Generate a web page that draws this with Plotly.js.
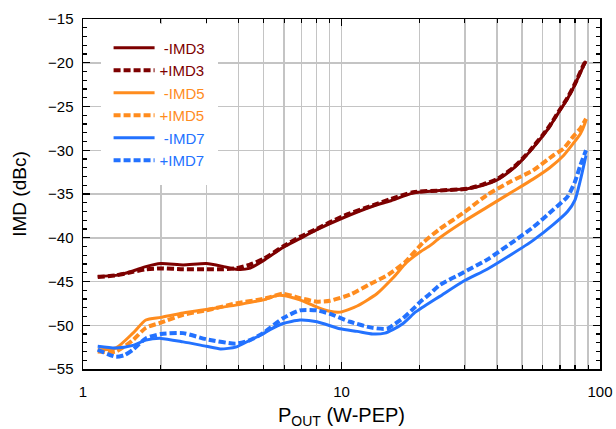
<!DOCTYPE html>
<html>
<head>
<meta charset="utf-8">
<script src="https://cdn.plot.ly/plotly-3.0.1.min.js"></script>
<style>html,body{margin:0;padding:0;background:#fff;}#chart{width:616px;height:429px;}</style>
</head>
<body>
<div id="chart"></div>
<script>
// -IMD3 (solid)
const xM3 = [1.14,1.34,1.56,1.75,2.0,2.44,3.0,3.5,3.9,4.4,5.0,5.94,6.9,8.0,10.0,13.2,15.4,18.9,24.0,30.6,35.3,40.0,46.1,50.0,53.7,59.9,63.9,69.1,74.9,80.0,86.2,88.3];
const yM3 = [-44.4,-44.3,-43.8,-43.3,-42.95,-43.1,-42.95,-43.3,-43.6,-43.5,-42.6,-41.1,-40.1,-39.1,-37.8,-36.4,-35.8,-34.9,-34.6,-34.4,-34.0,-33.4,-32.1,-31.1,-30.1,-28.4,-27.3,-25.7,-24.1,-22.5,-20.4,-19.8];
// +IMD3 (dashed)
const xP3 = [1.14,1.34,1.56,1.75,2.0,2.44,3.0,3.5,3.9,4.4,5.0,5.94,6.9,8.0,10.0,13.2,15.4,18.9,24.0,30.6,35.3,40.0,46.1,50.0,53.7,59.9,63.9,69.1,74.9,80.0,86.2,88.3];
const yP3 = [-44.5,-44.3,-43.9,-43.6,-43.5,-43.6,-43.6,-43.6,-43.5,-43.1,-42.4,-41.0,-39.9,-39.0,-37.6,-36.3,-35.6,-34.8,-34.6,-34.4,-33.9,-33.3,-32.0,-31.0,-30.0,-28.3,-27.2,-25.6,-24.0,-22.4,-20.3,-19.7];
// -IMD5 (solid)
const xM5 = [1.14,1.34,1.56,1.75,2.0,2.44,3.0,3.9,4.4,5.0,5.6,5.94,6.9,8.0,9.0,9.87,11.5,13.7,15.8,17.9,20.2,22.0,24.0,29.5,36.6,44.9,55.1,63.9,72.3,78.9,84.0,87.5,88.3];
const yM5 = [-52.8,-52.6,-50.9,-49.4,-49.1,-48.6,-48.2,-47.7,-47.4,-47.1,-46.6,-46.6,-47.1,-47.9,-48.4,-48.5,-47.8,-46.4,-44.6,-42.8,-41.6,-40.9,-40.0,-38.2,-36.5,-34.9,-33.3,-32.0,-30.6,-29.2,-28.1,-26.9,-26.5];
// +IMD5 (dashed)
const xP5 = [1.14,1.34,1.56,1.75,2.0,2.44,3.0,3.9,4.97,5.29,5.94,6.91,8.04,9.03,10.79,12.9,15.2,17.6,20.6,24.0,29.5,36.6,44.9,55.1,65.9,72.3,78.9,84.0,88.3];
const yP5 = [-53.0,-53.0,-51.7,-50.3,-49.7,-48.8,-48.3,-47.5,-47.0,-46.8,-46.4,-46.9,-47.3,-47.2,-46.5,-45.3,-44.2,-42.8,-40.6,-39.0,-37.2,-35.1,-33.6,-32.3,-30.6,-29.8,-28.4,-27.5,-26.4];
// -IMD7 (solid)
const xM7 = [1.14,1.34,1.56,1.75,2.0,2.44,3.0,3.4,3.9,4.43,4.97,5.29,5.94,6.91,8.04,9.87,11.5,13.2,14.7,15.8,17.3,19.3,20.2,22.0,24.0,29.5,36.6,44.9,55.1,65.9,74.9,80.0,84.0,87.5,88.3];
const yM7 = [-52.4,-52.6,-52.3,-51.7,-51.5,-51.9,-52.4,-52.7,-52.5,-51.7,-51.0,-50.5,-49.8,-49.4,-49.6,-50.4,-50.7,-51.0,-50.9,-50.5,-49.8,-48.5,-48.1,-47.4,-46.7,-45.0,-43.6,-42.0,-40.3,-38.5,-37.0,-35.7,-33.4,-31.1,-30.6];
// +IMD7 (dashed)
const xP7 = [1.14,1.34,1.45,1.56,1.75,2.0,2.44,3.0,3.9,4.43,4.97,5.94,6.91,8.04,9.03,10.79,13.2,15.0,15.8,17.3,19.3,20.2,22.0,24.0,29.5,36.6,44.9,55.1,65.9,74.9,80.0,84.0,88.3];
const yP7 = [-52.8,-53.6,-53.4,-52.8,-51.5,-51.0,-50.9,-51.6,-52.1,-51.7,-50.9,-49.2,-48.3,-48.3,-48.7,-49.6,-50.3,-50.4,-50.0,-49.2,-47.9,-47.3,-46.4,-45.4,-44.0,-42.5,-40.7,-38.8,-36.8,-35.3,-33.6,-31.7,-30.0];

const names = ['\u00a0-IMD3','+IMD3','\u00a0-IMD5','+IMD5','\u00a0-IMD7','+IMD7'];
const xMinor = [2,3,4,5,6,7,8,9,20,30,40,50,60,70,80,90];
const xMajor = [1,10,100];
const xLabels = ['1','10','100'];

const cRed = '#7d0000', cOrg = '#ff8c1e', cBlue = '#2372ff';
const DASH = '7px,3px';
function tr(x, y, name, color, dashed) {
  return {
    x: x, y: y, type: 'scatter', mode: 'lines',
    name: '<span style="color:' + color + '">' + name + '</span>',
    line: {color: color, width: dashed ? 4 : 3, dash: dashed ? DASH : 'solid', shape: 'spline', smoothing: 0.6}
  };
}
const data = [
  tr(xM3, yM3, names[0], cRed, false),
  tr(xP3, yP3, names[1], cRed, true),
  tr(xM5, yM5, names[2], cOrg, false),
  tr(xP5, yP5, names[3], cOrg, true),
  tr(xM7, yM7, names[4], cBlue, false),
  tr(xP7, yP7, names[5], cBlue, true)
];
const gridC = '#c4c4c4';
const layout = {
  width: 616, height: 429,
  margin: {l: 83, r: 16, t: 19, b: 60},
  paper_bgcolor: '#fff', plot_bgcolor: '#fff',
  font: {family: 'Liberation Sans, Arial, sans-serif', size: 15, color: '#000'},
  showlegend: true,
  legend: {x: 0.034, y: 0.987, xanchor: 'left', yanchor: 'top', bgcolor: '#fff',
           bordercolor: '#fff', borderwidth: 8,
           font: {size: 15}, itemwidth: 41, tracegroupgap: 0},
  xaxis: {
    type: 'log', range: [0, 2],
    tickmode: 'array', tickvals: xMajor, ticktext: xLabels,
    ticks: 'inside', ticklen: 7, tickwidth: 1.2, tickcolor: '#000',
    showline: true, linecolor: '#000', linewidth: 1.5, mirror: 'allticks',
    showgrid: true, gridcolor: gridC, gridwidth: 1.5,
    ticklabelstandoff: 8,
    minor: {tickmode: 'array', tickvals: xMinor, ticks: 'inside', ticklen: 4, tickcolor: '#000', showgrid: true, gridcolor: gridC, gridwidth: 1.5},
    zeroline: false,
    title: {text: 'P<sub>OUT</sub> (W-PEP)', font: {size: 20}, standoff: 10}
  },
  yaxis: {
    range: [-55, -15], dtick: 5, tick0: -55,
    ticks: 'inside', ticklen: 7, tickwidth: 1.2, tickcolor: '#000',
    showline: true, linecolor: '#000', linewidth: 1.5, mirror: 'allticks',
    showgrid: true, gridcolor: gridC, gridwidth: 1.5,
    ticklabelstandoff: 5,
    minor: {dtick: 1, ticks: 'inside', ticklen: 4, tickcolor: '#000', showgrid: false},
    zeroline: false,
    title: {text: 'IMD (dBc)', font: {size: 19}, standoff: 16}
  }
};
Plotly.newPlot('chart', data, layout, {staticPlot: true, displayModeBar: false});
</script>
</body>
</html>
